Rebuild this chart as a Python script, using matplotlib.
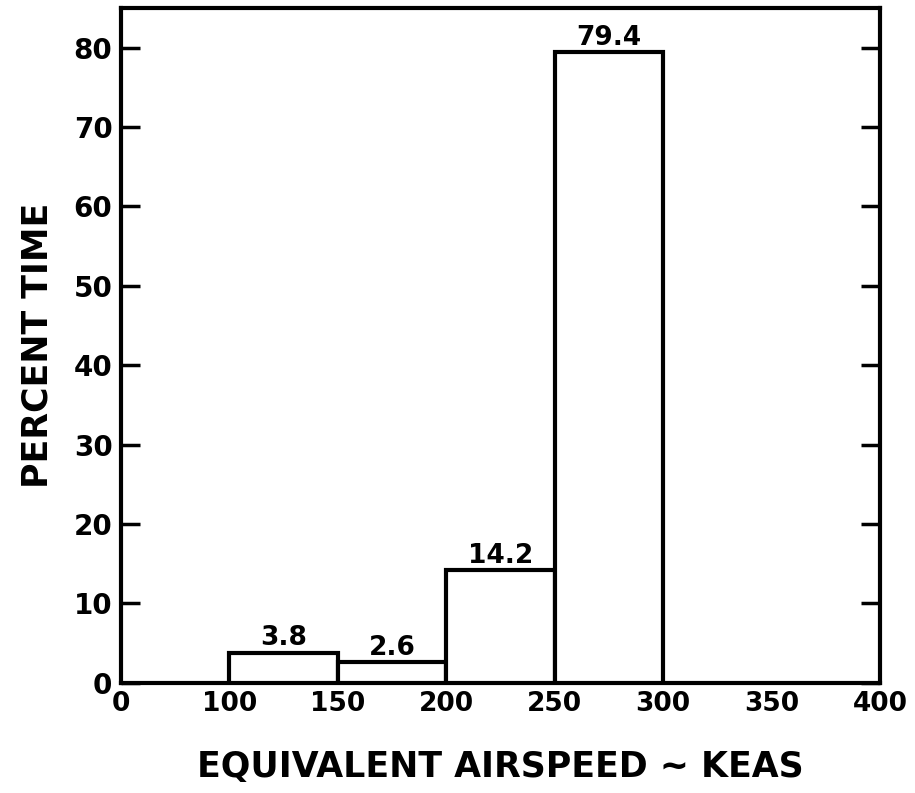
import numpy as np
import matplotlib
matplotlib.use("Agg")
import matplotlib.pyplot as plt

# Airspeed bins (KEAS) and percent time
bin_left = [100, 150, 200, 250]
bin_width = 50
percent_time = [3.8, 2.6, 14.2, 79.4]
bar_labels = ["3.8", "2.6", "14.2", "79.4"]

x_ticks = [0, 100, 150, 200, 250, 300, 350, 400]
y_ticks = [0, 10, 20, 30, 40, 50, 60, 70, 80]


# The original axis squeezes 0-100 into one 50-unit step
def fwd(x):
    x = np.asarray(x, dtype=float)
    return np.where(x < 100, x / 2.0, x - 50.0)


def inv(y):
    y = np.asarray(y, dtype=float)
    return np.where(y < 50, y * 2.0, y + 50.0)


plt.rcParams['font.family'] = ['DejaVu Sans']
plt.rcParams['font.weight'] = 'bold'

fig = plt.figure(figsize=(9.15, 7.93), dpi=100)
ax = fig.add_axes([0.132, 0.139, 0.830, 0.851])

ax.set_xscale('function', functions=(fwd, inv))
ax.set_xlim(0, 400)
ax.set_ylim(0, 85)

ax.bar(bin_left, percent_time, width=bin_width, align='edge',
       facecolor='white', edgecolor='black', linewidth=3, zorder=3)

for left, val, lab in zip(bin_left, percent_time, bar_labels):
    ax.text(left + bin_width / 2, val + 0.15, lab, ha='center', va='bottom',
            fontsize=19, fontweight='bold')

for sp in ax.spines.values():
    sp.set_linewidth(3)

ax.set_xticks(x_ticks)
ax.set_xticklabels([str(t) for t in x_ticks])
ax.set_yticks(y_ticks)
ax.tick_params(axis='x', length=0, pad=6, labelsize=19)
ax.tick_params(axis='y', direction='in', length=14, width=2.5, pad=6,
               labelsize=20, right=True, labelright=False)
ax.xaxis.set_minor_locator(matplotlib.ticker.NullLocator())

ax.set_xlabel('EQUIVALENT AIRSPEED ~ KEAS', fontsize=25, fontweight='bold',
              labelpad=24)
ax.set_ylabel('PERCENT TIME', fontsize=25, fontweight='bold', labelpad=14)

fig.savefig('out.png', dpi=100)
